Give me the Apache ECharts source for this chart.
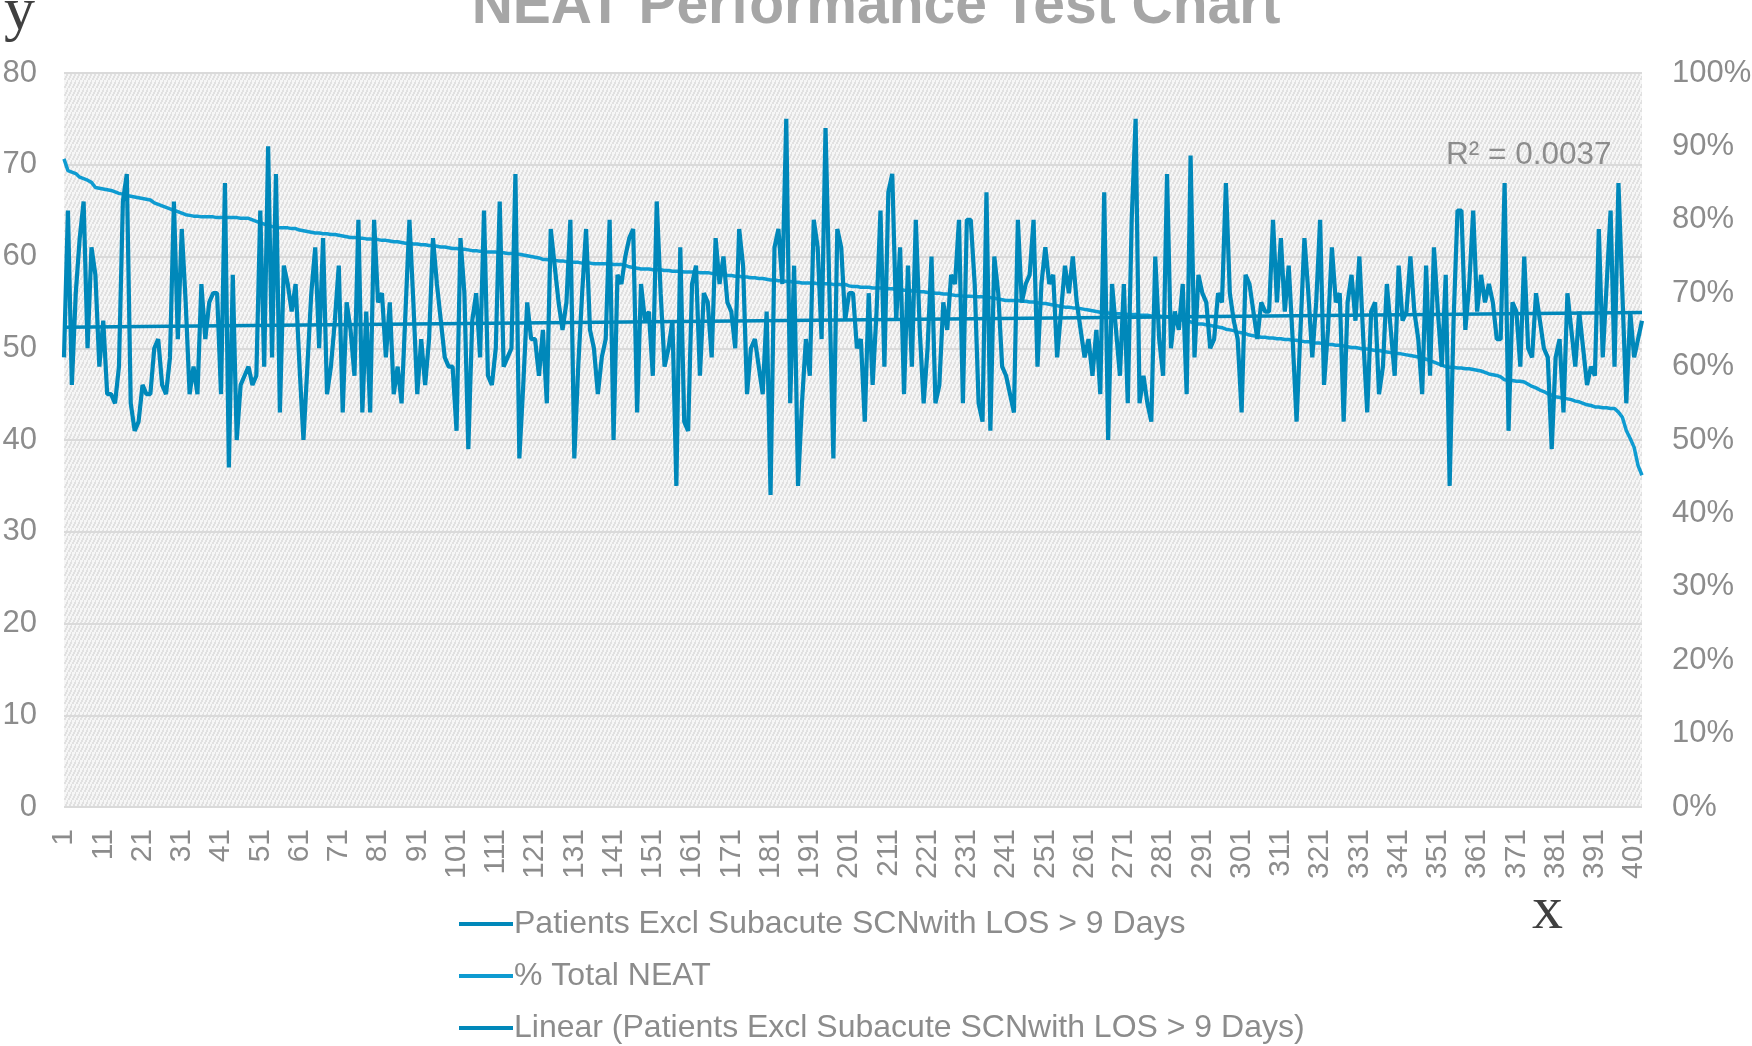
<!DOCTYPE html>
<html>
<head>
<meta charset="utf-8">
<script src="https://cdn.jsdelivr.net/npm/echarts@6/dist/echarts.min.js"></script>
<style>
  html, body { margin: 0; padding: 0; background: #fff; }
  #chart { width: 1752px; height: 1046px; }
</style>
</head>
<body>
<div id="chart"></div>
<script>
// Patients Excl Subacute SCNwith LOS > 9 Days (left axis)
const patients = [
  49, 65, 46, 56, 62, 66, 50, 61, 58, 48,
  53, 45, 45, 44, 48, 66, 69, 44, 41, 42,
  46, 45, 45, 50, 51, 46, 45, 49, 66, 51,
  63, 55, 45, 48, 45, 57, 51, 55, 56, 56,
  45, 68, 37, 58, 40, 46, 47, 48, 46, 47,
  65, 48, 72, 49, 69, 43, 59, 57, 54, 57,
  48, 40, 48, 56, 61, 50, 62, 45, 48, 53,
  59, 43, 55, 52, 47, 64, 43, 54, 43, 64,
  55, 56, 49, 55, 45, 48, 44, 54, 64, 55,
  45, 51, 46, 51, 62, 57, 53, 49, 48, 48,
  41, 62, 56, 39, 53, 56, 49, 65, 47, 46,
  50, 66, 48, 49, 50, 69, 38, 46, 55, 51,
  51, 47, 52, 44, 63, 59, 55, 52, 55, 64,
  38, 48, 56, 63, 52, 50, 45, 49, 51, 64,
  40, 58, 57, 60, 62, 63, 43, 57, 53, 54,
  47, 66, 56, 48, 50, 53, 35, 61, 42, 41,
  57, 59, 47, 56, 55, 49, 62, 57, 60, 55,
  54, 50, 63, 59, 45, 50, 51, 48, 45, 54,
  34, 61, 63, 57, 75, 44, 59, 35, 44, 51,
  47, 64, 61, 51, 74, 56, 38, 63, 61, 53,
  56, 56, 50, 51, 42, 56, 46, 54, 65, 48,
  67, 69, 53, 61, 45, 59, 48, 64, 52, 44,
  50, 60, 44, 46, 55, 52, 58, 57, 64, 44,
  64, 64, 57, 44, 42, 67, 41, 60, 56, 48,
  47, 45, 43, 64, 55, 57, 58, 64, 48, 57,
  61, 57, 58, 49, 54, 59, 56, 60, 55, 52,
  49, 51, 47, 52, 45, 67, 40, 57, 52, 47,
  57, 44, 64, 75, 44, 47, 44, 42, 60, 51,
  47, 69, 50, 54, 52, 57, 45, 71, 49, 58,
  56, 55, 50, 51, 56, 55, 68, 56, 53, 51,
  43, 58, 57, 54, 51, 55, 54, 54, 64, 55,
  62, 54, 59, 51, 42, 52, 62, 56, 49, 55,
  64, 46, 52, 61, 55, 56, 42, 55, 58, 53,
  60, 51, 43, 54, 55, 45, 48, 57, 52, 47,
  59, 53, 54, 60, 54, 51, 45, 59, 47, 61,
  54, 48, 58, 35, 53, 65, 65, 52, 57, 65,
  54, 58, 55, 57, 55, 51, 51, 68, 41, 55,
  54, 48, 60, 50, 49, 56, 53, 50, 49, 39,
  49, 51, 43, 56, 52, 48, 54, 50, 46, 48,
  47, 63, 49, 57, 65, 48, 68, 56, 44, 54,
  49, 51, 53
];

// % Total NEAT (right axis, percent)
const totalNeat = [
  88.3, 86.7, 86.5, 86.3, 85.8, 85.6, 85.4, 85.1, 84.4, 84.3,
  84.2, 84.1, 84.0, 83.8, 83.6, 83.5, 83.3, 83.2, 83.1, 83.0,
  82.9, 82.8, 82.7, 82.3, 82.1, 81.9, 81.7, 81.5, 81.3, 81.1,
  80.9, 80.7, 80.6, 80.5, 80.5, 80.4, 80.4, 80.4, 80.4, 80.3,
  80.3, 80.3, 80.3, 80.3, 80.3, 80.2, 80.2, 80.2, 80.0, 79.8,
  79.6, 79.4, 79.2, 79.1, 79.0, 78.9, 78.9, 78.9, 78.8, 78.8,
  78.6, 78.5, 78.4, 78.3, 78.2, 78.2, 78.1, 78.1, 78.0, 78.0,
  77.9, 77.8, 77.7, 77.6, 77.6, 77.5, 77.5, 77.4, 77.4, 77.3,
  77.3, 77.2, 77.2, 77.1, 77.0, 77.0, 76.9, 76.8, 76.8, 76.7,
  76.7, 76.6, 76.6, 76.5, 76.5, 76.4, 76.3, 76.3, 76.2, 76.1,
  76.1, 76.0, 76.0, 75.9, 75.8, 75.8, 75.7, 75.7, 75.6, 75.6,
  75.6, 75.5, 75.5, 75.4, 75.4, 75.3, 75.3, 75.2, 75.1, 75.0,
  74.9, 74.8, 74.6, 74.6, 74.5, 74.5, 74.4, 74.4, 74.3, 74.3,
  74.2, 74.2, 74.1, 74.1, 74.1, 74.0, 74.0, 74.0, 74.0, 74.0,
  73.9, 73.9, 73.9, 73.8, 73.6, 73.5, 73.4, 73.3, 73.3, 73.3,
  73.2, 73.2, 73.2, 73.1, 73.1, 73.0, 73.0, 73.0, 72.9, 72.9,
  72.9, 72.9, 72.8, 72.8, 72.8, 72.7, 72.6, 72.5, 72.5, 72.4,
  72.4, 72.3, 72.3, 72.2, 72.2, 72.1, 72.1, 72.0, 72.0, 71.9,
  71.8, 71.8, 71.7, 71.7, 71.6, 71.6, 71.5, 71.5, 71.4, 71.4,
  71.4, 71.4, 71.3, 71.3, 71.3, 71.3, 71.2, 71.2, 71.2, 71.2,
  71.0, 70.9, 70.9, 70.8, 70.8, 70.8, 70.7, 70.7, 70.7, 70.6,
  70.6, 70.6, 70.5, 70.5, 70.4, 70.4, 70.3, 70.3, 70.2, 70.2,
  70.1, 70.1, 70.0, 70.0, 69.9, 69.9, 69.8, 69.7, 69.7, 69.6,
  69.6, 69.6, 69.5, 69.5, 69.5, 69.4, 69.4, 69.3, 69.2, 69.1,
  69.0, 69.0, 69.0, 69.0, 68.9, 68.9, 68.8, 68.8, 68.7, 68.6,
  68.6, 68.5, 68.4, 68.3, 68.2, 68.1, 68.1, 68.0, 68.0, 67.9,
  67.8, 67.7, 67.6, 67.5, 67.4, 67.3, 67.3, 67.2, 67.2, 67.2,
  67.1, 67.1, 67.1, 67.1, 67.0, 67.0, 67.0, 66.9, 66.9, 66.9,
  66.8, 66.8, 66.7, 66.6, 66.5, 66.3, 66.2, 66.1, 65.9, 65.8,
  65.8, 65.7, 65.6, 65.5, 65.4, 65.3, 65.1, 65.0, 64.9, 64.7,
  64.6, 64.5, 64.3, 64.2, 64.1, 64.0, 64.0, 63.9, 63.9, 63.8,
  63.8, 63.7, 63.7, 63.6, 63.6, 63.5, 63.4, 63.4, 63.3, 63.2,
  63.2, 63.1, 63.0, 63.0, 62.9, 62.9, 62.8, 62.7, 62.6, 62.6,
  62.5, 62.4, 62.4, 62.3, 62.2, 62.2, 62.1, 62.0, 61.9, 61.8,
  61.8, 61.7, 61.6, 61.5, 61.4, 61.3, 61.2, 61.0, 60.8, 60.6,
  60.4, 60.2, 60.0, 59.9, 59.9, 59.8, 59.8, 59.7, 59.7, 59.6,
  59.5, 59.4, 59.2, 59.0, 58.9, 58.8, 58.6, 58.2, 58.1, 58.1,
  58.0, 58.0, 57.9, 57.6, 57.3, 57.1, 56.8, 56.6, 56.3, 56.1,
  55.9, 55.8, 55.7, 55.6, 55.5, 55.3, 55.2, 55.0, 54.8, 54.7,
  54.5, 54.5, 54.4, 54.4, 54.3, 54.3, 53.8, 53.1, 51.3, 50.2,
  49.0, 46.5, 45.2
];

// linear trend line of the patients series: value at first and last point
const trendEnds = [52.3, 53.9];

// x categories are just the row numbers 1..N
const categories = patients.map((_, i) => String(i + 1));

const seriesNames = [
  'Patients Excl Subacute SCNwith LOS > 9 Days',
  '% Total NEAT',
  'Linear (Patients Excl Subacute SCNwith LOS > 9 Days)'
];

// trend series: only both ends set, joined across the gaps
const trendData = categories.map(() => null);
trendData[0] = trendEnds[0];
trendData[trendData.length - 1] = trendEnds[1];

// excel-like hatch fill for the plot area (steep stripes)
function makeHatch() {
  const c = document.createElement('canvas');
  c.width = 4; c.height = 8;
  const g = c.getContext('2d');
  g.fillStyle = '#f6f6f6';
  g.fillRect(0, 0, 4, 8);
  g.fillStyle = '#e1e1e1';
  for (let y = 0; y < 8; y++) {
    g.fillRect((3 - Math.floor(y / 2)) % 4, y, 2, 1);
  }
  return c;
}

const gray = '#8c8c8c';
const chart = echarts.init(document.getElementById('chart'));

chart.setOption({
  animation: false,
  backgroundColor: '#fff',
  title: {
    text: 'NEAT Performance Test Chart',
    left: 'center',
    top: -26,
    textStyle: { fontFamily: 'Liberation Sans', fontSize: 57, fontWeight: 'bold', color: '#a6a6a6' }
  },
  grid: {
    left: 64, right: 110, top: 73, bottom: 239,
    outerBoundsMode: 'none',
    show: true,
    borderWidth: 0,
    backgroundColor: { image: makeHatch(), repeat: 'repeat' }
  },
  legend: {
    orient: 'vertical',
    left: 459,
    top: 908,
    padding: 0,
    itemWidth: 54,
    itemHeight: 4,
    itemGap: 20,
    icon: 'rect',
    data: seriesNames,
    textStyle: { fontFamily: 'Liberation Sans', fontSize: 32, lineHeight: 30, color: gray, padding: [0, 0, 0, -4] }
  },
  xAxis: {
    type: 'category',
    data: categories,
    boundaryGap: false,
    axisLine: { show: false },
    axisTick: { show: false },
    axisLabel: {
      interval: 9,
      rotate: 90,
      margin: 22,
      fontFamily: 'Liberation Sans',
      fontSize: 30,
      color: gray
    },
    splitLine: { show: false }
  },
  yAxis: [
    {
      type: 'value',
      min: 0, max: 80, interval: 10,
      axisLine: { show: false },
      axisTick: { show: false },
      axisLabel: { margin: 27, fontFamily: 'Liberation Sans', fontSize: 31, color: gray },
      splitLine: { lineStyle: { color: '#dadada', width: 2 } }
    },
    {
      type: 'value',
      position: 'right',
      min: 0, max: 100, interval: 10,
      axisLine: { show: false },
      axisTick: { show: false },
      axisLabel: { margin: 30, fontFamily: 'Liberation Sans', fontSize: 31, color: gray, formatter: '{value}%' },
      splitLine: { show: false }
    }
  ],
  series: [
    {
      name: seriesNames[0],
      type: 'line',
      data: patients,
      yAxisIndex: 0,
      symbol: 'none',
      color: '#0088BA',
      lineStyle: { width: 4.2, color: '#0088BA' },
      z: 3
    },
    {
      name: seriesNames[1],
      type: 'line',
      data: totalNeat,
      yAxisIndex: 1,
      symbol: 'none',
      color: '#0E9BD1',
      lineStyle: { width: 3.5, color: '#0E9BD1' },
      z: 2
    },
    {
      name: seriesNames[2],
      type: 'line',
      data: trendData,
      yAxisIndex: 0,
      connectNulls: true,
      symbol: 'none',
      color: '#0088BA',
      lineStyle: { width: 3.5, color: '#0088BA' },
      z: 4
    }
  ],
  graphic: [
    {
      type: 'text', left: 4, top: -18,
      style: { text: 'y', fontFamily: 'Liberation Serif', fontSize: 62, fill: '#404040' }
    },
    {
      type: 'text', left: 1532, top: 881,
      style: { text: 'x', fontFamily: 'Liberation Serif', fontSize: 62, fill: '#404040' }
    },
    {
      type: 'text', left: 1446, top: 139,
      style: { text: 'R² = 0.0037', fontFamily: 'Liberation Sans', fontSize: 31.5, fill: gray }
    }
  ]
});
</script>
</body>
</html>
